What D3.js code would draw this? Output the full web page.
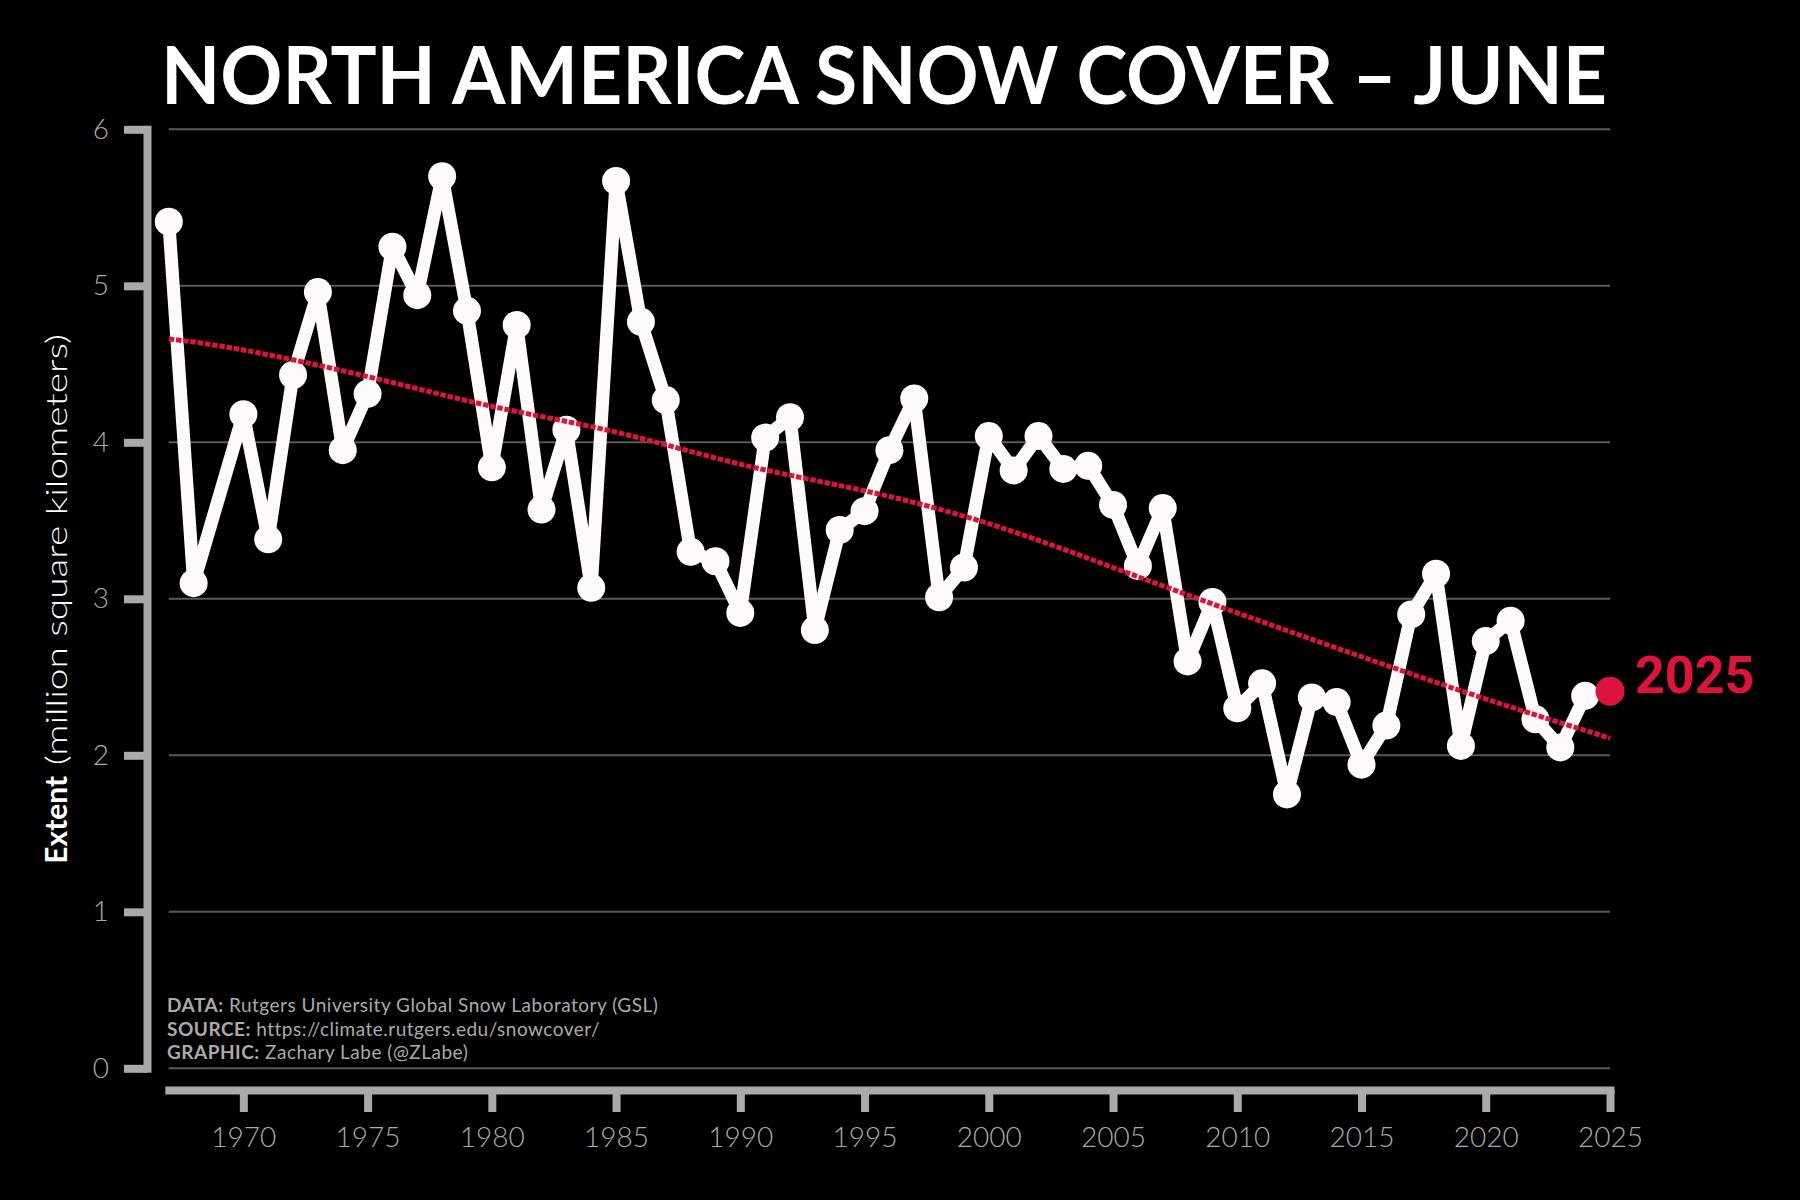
<!DOCTYPE html>
<html>
<head>
<meta charset="utf-8">
<script src="https://cdn.jsdelivr.net/npm/d3@7"></script>
<style>
  html, body { margin: 0; padding: 0; background: #000; }
  .chart text { font-family: Lato, "Open Sans", sans-serif; }
</style>
</head>
<body>
<div class="chart"></div>
<script>
// June North America snow cover extent (million km^2), 1969 missing in the record
const years = [1967, 1968, 1970, 1971, 1972, 1973, 1974, 1975, 1976, 1977, 1978, 1979,
  1980, 1981, 1982, 1983, 1984, 1985, 1986, 1987, 1988, 1989,
  1990, 1991, 1992, 1993, 1994, 1995, 1996, 1997, 1998, 1999,
  2000, 2001, 2002, 2003, 2004, 2005, 2006, 2007, 2008, 2009,
  2010, 2011, 2012, 2013, 2014, 2015, 2016, 2017, 2018, 2019,
  2020, 2021, 2022, 2023, 2024, 2025];
const extent = [5.41, 3.10, 4.18, 3.38, 4.43, 4.96, 3.95, 4.31, 5.25, 4.94, 5.70, 4.84,
  3.84, 4.75, 3.57, 4.08, 3.07, 5.67, 4.77, 4.27, 3.30, 3.24,
  2.91, 4.03, 4.16, 2.80, 3.44, 3.56, 3.95, 4.28, 3.01, 3.20,
  4.04, 3.82, 4.04, 3.83, 3.85, 3.60, 3.21, 3.58, 2.60, 2.98,
  2.30, 2.46, 1.75, 2.37, 2.34, 1.94, 2.19, 2.90, 3.16, 2.06,
  2.73, 2.86, 2.23, 2.05, 2.38, 2.41];

// smoothed trend
const trendYears = [1967, 1970, 1975, 1980, 1985, 1990, 1995, 2000, 2005, 2010, 2015, 2020, 2025];
const trendValues = [4.66, 4.59, 4.42, 4.23, 4.065, 3.86, 3.69, 3.48, 3.20, 2.91, 2.63, 2.36, 2.11];

const xTicks = [1970, 1975, 1980, 1985, 1990, 1995, 2000, 2005, 2010, 2015, 2020, 2025];
const yTicks = [0, 1, 2, 3, 4, 5, 6];

const credits = [
  ['DATA:', ' Rutgers University Global Snow Laboratory (GSL)'],
  ['SOURCE:', ' https://climate.rutgers.edu/snowcover/'],
  ['GRAPHIC:', ' Zachary Labe (@ZLabe)']
];

const width = 1800;
const height = 1200;
const snow = '#fffafa';
const red = '#dc143c';
const axisGray = '#aaaaaa';

const svg = d3.select('.chart')
  .append('svg')
    .attr('width', width)
    .attr('height', height);

svg.append('rect')
  .attr('width', width)
  .attr('height', height)
  .attr('fill', '#000');

const x = d3.scaleLinear()
  .domain([1967, 2025])
  .range([168.8, 1610]);

const y = d3.scaleLinear()
  .domain([0, 6])
  .range([1068.3, 129.3]);

// grid
svg.append('g')
  .selectAll('line')
  .data(yTicks)
  .join('line')
    .attr('x1', x(1967))
    .attr('x2', x(2025))
    .attr('y1', d => y(d))
    .attr('y2', d => y(d))
    .attr('stroke', '#5a5a5a')
    .attr('stroke-width', 2);

// x axis
const xAxis = g => g
  .attr('transform', 'translate(0, 1090)')
  .call(d3.axisBottom(x).tickValues(xTicks).tickFormat(d3.format('d')).tickSize(22).tickSizeOuter(0).tickPadding(15))
  .call(g => g.select('.domain')
    .attr('stroke', axisGray).attr('stroke-width', 8).attr('stroke-linecap', 'square'))
  .call(g => g.selectAll('.tick line')
    .attr('stroke', axisGray).attr('stroke-width', 8))
  .call(g => g.selectAll('.tick text')
    .attr('fill', axisGray)
    .attr('font-size', 28)
    .attr('font-weight', 300)
    .attr('font-family', 'Lato, sans-serif'));

// y axis
const yAxis = g => g
  .attr('transform', 'translate(147, 0)')
  .call(d3.axisLeft(y).tickValues(yTicks).tickFormat(d3.format('d')).tickSize(23).tickSizeOuter(0).tickPadding(15))
  .call(g => g.select('.domain')
    .attr('stroke', axisGray).attr('stroke-width', 8).attr('stroke-linecap', 'square'))
  .call(g => g.selectAll('.tick line')
    .attr('stroke', axisGray).attr('stroke-width', 8))
  .call(g => g.selectAll('.tick text')
    .attr('fill', axisGray)
    .attr('font-size', 28)
    .attr('font-weight', 300)
    .attr('font-family', 'Lato, sans-serif'));

svg.append('g').call(xAxis);
svg.append('g').call(yAxis);

// snow cover line
const series = years.map((yr, i) => ({year: yr, value: extent[i]}));

const line = d3.line()
  .x(d => x(d.year))
  .y(d => y(d.value));

svg.append('path')
  .datum(series)
  .attr('d', line)
  .attr('fill', 'none')
  .attr('stroke', snow)
  .attr('stroke-width', 13)
  .attr('stroke-linejoin', 'round');

svg.append('g')
  .selectAll('circle')
  .data(series)
  .join('circle')
    .attr('cx', d => x(d.year))
    .attr('cy', d => y(d.value))
    .attr('r', 14)
    .attr('fill', snow);

// trend
const trend = trendYears.map((yr, i) => ({year: yr, value: trendValues[i]}));

svg.append('path')
  .datum(trend)
  .attr('d', line.curve(d3.curveNatural))
  .attr('fill', 'none')
  .attr('stroke', red)
  .attr('stroke-width', 5)
  .attr('stroke-dasharray', '5.5,1.8');

// latest year
const last = series[series.length - 1];
svg.append('circle')
  .attr('cx', x(last.year))
  .attr('cy', y(last.value))
  .attr('r', 14.5)
  .attr('fill', red);

svg.append('text')
  .attr('x', 1635)
  .attr('y', 693)
  .attr('fill', red)
  .attr('font-size', 52)
  .attr('font-weight', 700)
  .style('font-family', 'Roboto, sans-serif')
  .text(last.year);

// title
svg.append('text')
  .attr('x', 161)
  .attr('y', 104)
  .attr('fill', '#fff')
  .attr('font-size', 80)
  .attr('font-weight', 700)
  .attr('textLength', 1446)
  .attr('lengthAdjust', 'spacingAndGlyphs')
  .text('NORTH AMERICA SNOW COVER \u2013 JUNE');

// y label
const yLabel = svg.append('text')
  .attr('transform', `translate(67, ${(y(0) + y(6)) / 2}) rotate(-90)`)
  .attr('text-anchor', 'middle')
  .attr('fill', '#fff')
  .attr('font-size', 30);
yLabel.append('tspan').attr('font-weight', 700).text('Extent');
yLabel.append('tspan')
  .attr('font-weight', 300)
  .attr('textLength', 442)
  .attr('lengthAdjust', 'spacingAndGlyphs')
  .text(' (million square kilometers)');

// credits
const cred = svg.append('g')
  .selectAll('text')
  .data(credits)
  .join('text')
    .attr('x', 167)
    .attr('y', (d, i) => 1012 + i * 23.5)
    .attr('fill', axisGray)
    .attr('font-size', 19)
    .attr('letter-spacing', 0.5);
cred.append('tspan').attr('font-weight', 700).text(d => d[0]);
cred.append('tspan').attr('font-weight', 400).text(d => d[1]);
</script>
</body>
</html>
